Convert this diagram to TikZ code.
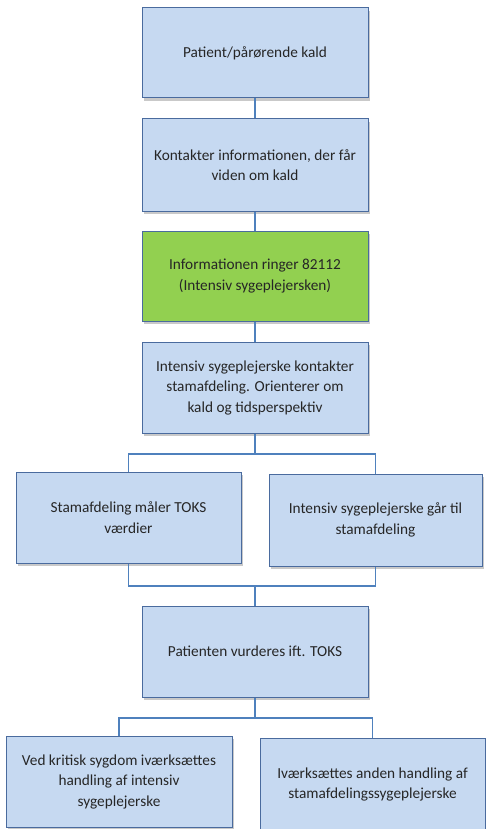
\documentclass[tikz,border=0pt]{standalone}
\usepackage{fontspec}
\setmainfont{Carlito}
\usepackage{tikz}
\usetikzlibrary{shadows}
\definecolor{mfill}{rgb}{0.776, 0.851, 0.945}
\definecolor{mgreen}{rgb}{0.573, 0.816, 0.314}
\definecolor{mborder}{rgb}{0.29, 0.42, 0.62}
\definecolor{mline}{rgb}{0.31, 0.506, 0.741}
\tikzset{box/.style = {draw=mborder, line width=1pt, fill=mfill,
                       align=center, text=black!85, inner sep=2pt,
                       font=\fontsize{15.3}{20.5}\selectfont,
                       drop shadow={shadow xshift=2pt, shadow yshift=-3pt,
                                    opacity=0.35, fill=black!60}}}
\tikzset{link/.style = {draw=mline, line width=1.2pt}}

\begin{document}
\begin{tikzpicture}[x=1pt, y=-1pt]
      \fill [white] (0, 0) rectangle (486, 829);
      \useasboundingbox (0, 0) rectangle (486, 829);

      \node [box, minimum width=226pt, minimum height=90pt] (kald) at (255, 53) {Patient/pårørende kald};
      \node [box, minimum width=226pt, minimum height=92pt] (kontakt) at (255, 165) {Kontakter informationen, der får\\viden om kald};
      \node [box, fill=mgreen, minimum width=226pt, minimum height=90pt] (ringer) at (255, 276) {Informationen ringer 82112\\(Intensiv sygeplejersken)};
      \node [box, minimum width=226pt, minimum height=91pt] (orienter) at (255, 387.5) {Intensiv sygeplejerske kontakter\\stamafdeling. Orienterer om\\kald og tidsperspektiv};
      \node [box, minimum width=225pt, minimum height=91pt] (maaler) at (128.5, 517.5) {Stamafdeling måler TOKS\\værdier};
      \node [box, minimum width=213pt, minimum height=92pt] (gaar) at (375.5, 520) {Intensiv sygeplejerske går til\\stamafdeling};
      \node [box, minimum width=226pt, minimum height=91pt] (vurder) at (255, 651.5) {Patienten vurderes ift. TOKS};
      \node [box, minimum width=226pt, minimum height=91pt] (kritisk) at (119, 781.5) {Ved kritisk sygdom iværksættes\\handling af intensiv\\sygeplejerske};
      \node [box, minimum width=225pt, minimum height=93pt] (anden) at (372.5, 784.5) {Iværksættes anden handling af\\stamafdelingssygeplejerske};

      \draw [link] (kald) -- (kontakt);
      \draw [link] (kontakt) -- (ringer);
      \draw [link] (ringer) -- (orienter);
      \draw [link] (orienter.south) -- (orienter.south |- 0, 454) -| (maaler.north);
      \draw [link] (orienter.south |- 0, 454) -| (gaar.north);
      \draw [link] (maaler.south) |- (vurder.north |- 0, 586) -| (gaar.south);
      \draw [link] (vurder.north |- 0, 586) -- (vurder.north);
      \draw [link] (vurder.south) -- (vurder.south |- 0, 718) -| (kritisk.north);
      \draw [link] (vurder.south |- 0, 718) -| (anden.north);
    \end{tikzpicture}
\end{document}
